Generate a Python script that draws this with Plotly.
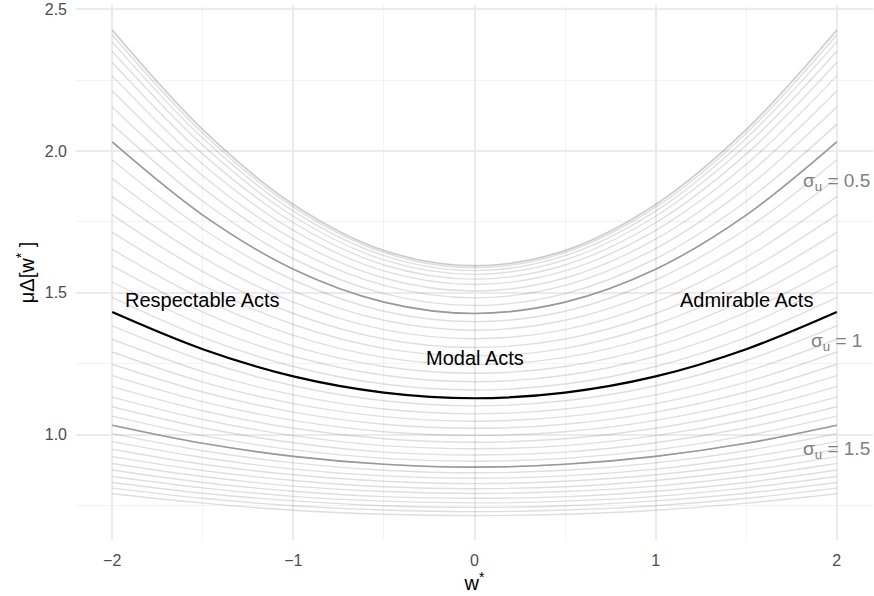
import plotly.graph_objects as go

# Noise levels sigma_u of the family of curves
sigma_u = [0.00, 0.05, 0.10, 0.15, 0.20, 0.25, 0.30, 0.35, 0.40, 0.45,
           0.50, 0.55, 0.60, 0.65, 0.70, 0.75, 0.80, 0.85, 0.90, 0.95,
           1.00, 1.05, 1.10, 1.15, 1.20, 1.25, 1.30, 1.35, 1.40, 1.45,
           1.50, 1.55, 1.60, 1.65, 1.70, 1.75, 1.80, 1.85, 1.90, 1.95, 2.00]

# Threshold positions w* (the curves are symmetric about w* = 0)
w_half = [0.0, 0.5, 1.0, 1.5, 2.0]

# mu-Delta[w*] for every sigma_u, one list per w* position
mu_w0_0 = [1.596, 1.594, 1.588, 1.578, 1.565, 1.548, 1.529, 1.506, 1.482, 1.455,
           1.427, 1.398, 1.368, 1.338, 1.307, 1.277, 1.246, 1.216, 1.186, 1.157,
           1.128, 1.101, 1.073, 1.047, 1.022, 0.997, 0.973, 0.950, 0.928, 0.906,
           0.885, 0.865, 0.846, 0.827, 0.809, 0.792, 0.775, 0.759, 0.743, 0.728, 0.714]
mu_w0_5 = [1.650, 1.648, 1.642, 1.631, 1.616, 1.598, 1.577, 1.552, 1.526, 1.497,
           1.467, 1.435, 1.403, 1.370, 1.337, 1.304, 1.272, 1.240, 1.209, 1.178,
           1.148, 1.119, 1.090, 1.063, 1.036, 1.010, 0.985, 0.961, 0.938, 0.916,
           0.895, 0.874, 0.854, 0.835, 0.816, 0.799, 0.781, 0.765, 0.749, 0.734, 0.719]
mu_w1_0 = [1.813, 1.810, 1.802, 1.788, 1.770, 1.747, 1.720, 1.689, 1.656, 1.620,
           1.583, 1.545, 1.506, 1.467, 1.427, 1.388, 1.350, 1.312, 1.276, 1.240,
           1.205, 1.172, 1.140, 1.109, 1.079, 1.050, 1.022, 0.996, 0.971, 0.946,
           0.923, 0.900, 0.878, 0.858, 0.838, 0.818, 0.800, 0.782, 0.766, 0.749, 0.733]
mu_w1_5 = [2.077, 2.074, 2.063, 2.045, 2.020, 1.989, 1.953, 1.913, 1.869, 1.823,
           1.774, 1.725, 1.675, 1.625, 1.575, 1.526, 1.478, 1.432, 1.386, 1.343,
           1.301, 1.261, 1.222, 1.185, 1.150, 1.116, 1.084, 1.053, 1.024, 0.996,
           0.969, 0.943, 0.919, 0.895, 0.873, 0.852, 0.831, 0.812, 0.793, 0.775, 0.758]
mu_w2_0 = [2.429, 2.424, 2.409, 2.385, 2.352, 2.312, 2.265, 2.212, 2.155, 2.094,
           2.032, 1.968, 1.903, 1.839, 1.775, 1.713, 1.653, 1.595, 1.538, 1.484,
           1.432, 1.383, 1.336, 1.291, 1.248, 1.208, 1.169, 1.132, 1.098, 1.065,
           1.033, 1.003, 0.975, 0.948, 0.922, 0.898, 0.875, 0.852, 0.831, 0.811, 0.791]

# Highlighted noise levels and their labels
highlight_sigma = [0.5, 1.0, 1.5]
highlight_text = ["σ<sub>u</sub> = 0.5", "σ<sub>u</sub> = 1", "σ<sub>u</sub> = 1.5"]
highlight_label_y = [1.89, 1.325, 0.945]

# Region labels
region_text = ["Respectable Acts", "Modal Acts", "Admirable Acts"]
region_x = [-1.5, 0.0, 1.5]
region_y = [1.475, 1.27, 1.475]

columns = [mu_w0_0, mu_w0_5, mu_w1_0, mu_w1_5, mu_w2_0]
w_full = [-w for w in w_half[:0:-1]] + w_half


def curve(i):
    right = [col[i] for col in columns]
    return right[:0:-1] + right


FONT = "Liberation Sans, Arial, sans-serif"
fig = go.Figure()

for i, s in enumerate(sigma_u):
    fig.add_trace(go.Scatter(
        x=w_full, y=curve(i), mode="lines",
        line=dict(color="rgba(0,0,0,0.13)", width=1.4, shape="spline"),
        hoverinfo="skip", showlegend=False))

styles = {0.5: ("#999999", 1.6), 1.0: ("#000000", 2.2), 1.5: ("#999999", 1.6)}
for s in highlight_sigma:
    i = sigma_u.index(s)
    color, width = styles[s]
    fig.add_trace(go.Scatter(
        x=w_full, y=curve(i), mode="lines",
        line=dict(color=color, width=width, shape="spline"),
        hoverinfo="skip", showlegend=False))

annotations = []
for txt, y in zip(highlight_text, highlight_label_y):
    annotations.append(dict(x=2.0, y=y, text=txt, showarrow=False,
                            xanchor="center", yanchor="middle",
                            font=dict(family=FONT, size=19, color="#808080")))
for txt, x, y in zip(region_text, region_x, region_y):
    annotations.append(dict(x=x, y=y, text=txt, showarrow=False,
                            xanchor="center", yanchor="middle",
                            font=dict(family=FONT, size=20, color="#000000")))

fig.update_layout(
    width=874, height=596,
    margin=dict(l=76, r=1, t=3, b=56),
    plot_bgcolor="white", paper_bgcolor="white",
    font=dict(family=FONT, size=16, color="#4d4d4d"),
    annotations=annotations,
    xaxis=dict(
        range=[-2.2, 2.2], tickvals=[-2, -1, 0, 1, 2],
        showgrid=True, gridcolor="#ebebeb", gridwidth=1.5,
        minor=dict(tickvals=[-1.5, -0.5, 0.5, 1.5], showgrid=True,
                   gridcolor="#f3f3f3", gridwidth=1),
        zeroline=False, showline=False, ticks="",
        ticklabelstandoff=9,
        tickfont=dict(family=FONT, size=16, color="#4d4d4d"),
        title=dict(text="w<sup>*</sup>", standoff=4,
                   font=dict(family=FONT, size=20, color="#000000")),
    ),
    yaxis=dict(
        range=[0.628, 2.515], tickvals=[1.0, 1.5, 2.0, 2.5],
        ticktext=["1.0", "1.5", "2.0", "2.5"],
        ticklabeloverflow="allow",
        showgrid=True, gridcolor="#ebebeb", gridwidth=1.5,
        minor=dict(tickvals=[0.75, 1.25, 1.75, 2.25], showgrid=True,
                   gridcolor="#f3f3f3", gridwidth=1),
        zeroline=False, showline=False, ticks="",
        ticklabelstandoff=8,
        tickfont=dict(family=FONT, size=16, color="#4d4d4d"),
        title=dict(text="μΔ[w<sup>*</sup> ]", standoff=4,
                   font=dict(family=FONT, size=20, color="#000000")),
    ),
)

fig.write_html("out.html")
